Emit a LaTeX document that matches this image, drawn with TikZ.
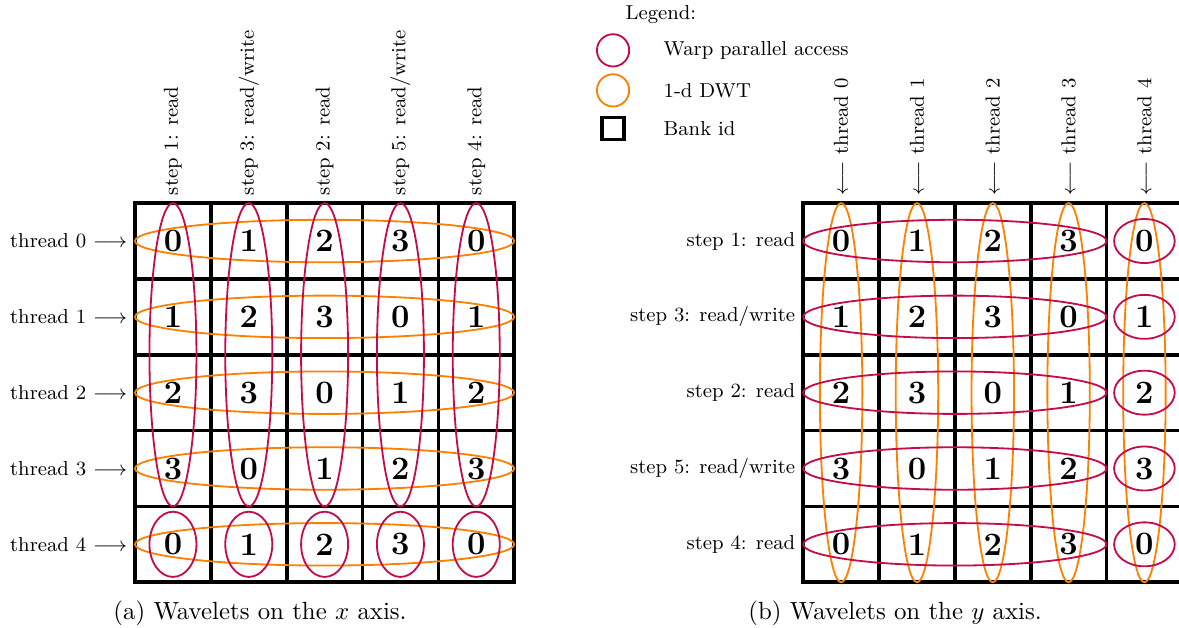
\documentclass[tikz,border=0pt]{standalone}
\usepackage{amsmath}
\usetikzlibrary{positioning}
\definecolor{WarpRed}{RGB}{196,12,76}
\definecolor{DwtOrange}{RGB}{255,128,0}

\begin{document}
\begin{tikzpicture}[
    font=\fontsize{8.9}{11}\selectfont,
    bankid/.style={font=\Large\bfseries},
    banklines/.style={line width=1.6pt, line cap=rect},
    warp/.style={draw=WarpRed, thick},
    dwt/.style={draw=DwtOrange, thick},
    vlabel/.style={rotate=90, anchor=west},
    hlabel/.style={anchor=east},
    caption/.style={font=\fontsize{10.95}{13}\selectfont}
  ]
  \useasboundingbox (0,0) rectangle (18.27,9.72);

  % legend
  \node[anchor=west] (legend) at (9.57,9.49) {Legend:};
  \node[warp, circle, minimum size=0.5cm, inner sep=0pt] (lwarp) at (9.50,8.94) {};
  \node[dwt, circle, minimum size=0.5cm, inner sep=0pt] (ldwt) at (9.50,8.32) {};
  \node[draw, banklines, minimum size=0.34cm, inner sep=0pt] (lbank) at (9.50,7.73) {};
  \node[anchor=west] (twarp) at (10.16,8.94) {Warp parallel access};
  \node[anchor=west] (tdwt) at (10.16,8.32) {1-d DWT};
  \node[anchor=west] (tbank) at (10.16,7.73) {Bank id};

  % (a) wavelets on the x axis
  \begin{scope}[shift={(2.0925cm,0.6975cm)}, x=1.175cm, y=1.175cm]
    \foreach \r in {0,...,4}
      \foreach \c in {0,...,4} {
        \pgfmathtruncatemacro\bank{mod(\r+\c,4)}
        \node[bankid] (a-\r-\c) at (\c+0.5,4.5-\r) {\bank};
      }
    \foreach \i in {0,...,5} {
      \draw[banklines] (\i,0) -- (\i,5);
      \draw[banklines] (0,\i) -- (5,\i);
    }
    \foreach \r in {0,...,4}
      \draw[dwt] (2.5,4.5-\r) ellipse [x radius=2.5, y radius=0.28];
    \foreach \c in {0,...,4} {
      \draw[warp] (\c+0.5,3) ellipse [x radius=0.31, y radius=2];
      \draw[warp] (\c+0.5,0.5) ellipse [x radius=0.31, y radius=0.43];
    }
    \foreach \r in {0,...,4}
      \node[hlabel] (athr-\r) at (0,4.5-\r) {thread \r\ $\longrightarrow$};
    \foreach \c/\txt in {0/{step 1: read}, 1/{step 3: read/write}, 2/{step 2: read},
                         3/{step 5: read/write}, 4/{step 4: read}}
      \node[vlabel] (astep-\c) at (\c+0.5,5) {\txt};
  \end{scope}
  \node[caption] (capa) at (4.03,0.22) {(a) Wavelets on the $x$ axis.};

  % (b) wavelets on the y axis
  \begin{scope}[shift={(12.4465cm,0.6975cm)}, x=1.175cm, y=1.175cm]
    \foreach \r in {0,...,4}
      \foreach \c in {0,...,4} {
        \pgfmathtruncatemacro\bank{mod(\r+\c,4)}
        \node[bankid] (b-\r-\c) at (\c+0.5,4.5-\r) {\bank};
      }
    \foreach \i in {0,...,5} {
      \draw[banklines] (\i,0) -- (\i,5);
      \draw[banklines] (0,\i) -- (5,\i);
    }
    \foreach \c in {0,...,4}
      \draw[dwt] (\c+0.5,2.5) ellipse [x radius=0.28, y radius=2.5];
    \foreach \r in {0,...,4} {
      \draw[warp] (2,4.5-\r) ellipse [x radius=2, y radius=0.28];
      \draw[warp] (4.5,4.5-\r) ellipse [x radius=0.4, y radius=0.29];
    }
    \foreach \c in {0,...,4}
      \node[vlabel] (bthr-\c) at (\c+0.5,5) {$\longleftarrow$ thread \c};
    \foreach \r/\txt in {0/{step 1: read}, 1/{step 3: read/write}, 2/{step 2: read},
                         3/{step 5: read/write}, 4/{step 4: read}}
      \node[hlabel] (bstep-\r) at (0,4.5-\r) {\txt};
  \end{scope}
  \node[caption] (capb) at (13.87,0.22) {(b) Wavelets on the $y$ axis.};
\end{tikzpicture}
\end{document}
